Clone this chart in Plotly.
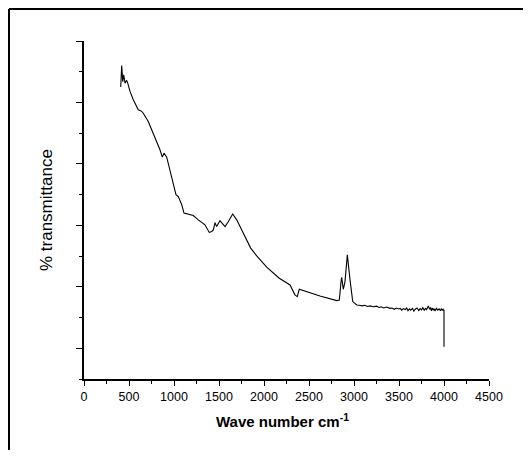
import plotly.graph_objects as go

# Wave number (cm^-1) and % transmittance (arbitrary units)
wavenumber = [408, 419, 430, 441, 456, 474, 486, 511, 548, 603, 641, 659, 714, 752, 808,
              844, 870, 889, 919, 956, 992, 1022, 1048, 1086, 1111, 1141, 1214, 1270, 1344,
              1392, 1419, 1437, 1456, 1474, 1511, 1541, 1567, 1603, 1652, 1697, 1752, 1808,
              1852, 1919, 2030, 2170, 2289, 2344, 2370, 2392, 2474, 2622, 2808, 2837, 2856,
              2863, 2881, 2900, 2926, 2937, 2956, 2986, 3030, 3060, 3090, 3120, 3150, 3180,
              3214, 3250, 3280, 3300, 3330, 3360, 3400, 3420, 3450, 3470, 3500, 3515, 3530,
              3550, 3570, 3585, 3600, 3615, 3630, 3650, 3665, 3680, 3700, 3720, 3735, 3750,
              3765, 3780, 3795, 3807, 3826, 3840, 3850, 3860, 3870, 3880, 3890, 3900, 3915,
              3930, 3945, 3960, 3970, 3980, 3990, 3995, 4000, 4000]
transmittance = [9.50, 10.20, 9.68, 9.90, 9.63, 9.72, 9.63, 9.36, 9.09, 8.76, 8.71, 8.65, 8.38,
                 8.11, 7.73, 7.46, 7.22, 7.35, 7.22, 6.81, 6.38, 6.00, 5.94, 5.67, 5.40, 5.37,
                 5.32, 5.18, 5.02, 4.77, 4.80, 4.85, 5.09, 4.96, 5.15, 5.05, 4.96, 5.12, 5.37,
                 5.18, 4.85, 4.50, 4.26, 4.01, 3.64, 3.28, 3.06, 2.74, 2.68, 2.92, 2.84, 2.70,
                 2.55, 2.57, 3.17, 3.31, 2.92, 3.17, 4.04, 3.71, 3.22, 2.52, 2.41, 2.40, 2.38,
                 2.40, 2.36, 2.38, 2.35, 2.37, 2.33, 2.35, 2.31, 2.34, 2.30, 2.31, 2.27, 2.31,
                 2.28, 2.30, 2.24, 2.29, 2.26, 2.31, 2.22, 2.28, 2.24, 2.30, 2.21, 2.27, 2.31,
                 2.23, 2.29, 2.25, 2.32, 2.24, 2.30, 2.26, 2.38, 2.27, 2.33, 2.22, 2.31, 2.25,
                 2.29, 2.21, 2.30, 2.24, 2.28, 2.22, 2.29, 2.24, 2.27, 2.23, 2.25, 1.05]

x_ticks = [0, 500, 1000, 1500, 2000, 2500, 3000, 3500, 4000, 4500]
y_major = [1, 3, 5, 7, 9, 11]

FONT = "Liberation Sans, Arial, sans-serif"

fig = go.Figure()
fig.add_trace(go.Scatter(x=wavenumber, y=transmittance, mode="lines",
                         line=dict(color="black", width=1.1), showlegend=False))

# page body has an 8px margin, so the figure is sized/offset to compensate
fig.update_layout(
    width=515, height=442,
    margin=dict(l=76, r=34, t=33, b=71),
    paper_bgcolor="white", plot_bgcolor="white",
    font=dict(family=FONT, color="black"),
    xaxis=dict(range=[0, 4500], tickvals=x_ticks, ticktext=[str(v) for v in x_ticks],
               showgrid=False, zeroline=False, showline=True, linecolor="black", linewidth=1.5,
               ticks="outside", ticklen=5, tickwidth=1, tickcolor="black", automargin=False,
               tickfont=dict(size=12.5, family=FONT),
               minor=dict(dtick=250, tick0=0, ticks="outside", ticklen=3, tickcolor="black")),
    yaxis=dict(range=[0, 11], tickvals=y_major, showticklabels=False, automargin=False,
               showgrid=False, zeroline=False, showline=True, linecolor="black", linewidth=1.5,
               ticks="outside", ticklen=6, tickwidth=1, tickcolor="black",
               minor=dict(dtick=1, tick0=0, ticks="outside", ticklen=3, tickcolor="black")),
    annotations=[
        dict(text="<b>Wave number cm<sup>-1</sup></b>", xref="paper", yref="paper",
             x=0.491, y=-0.124, xanchor="center", yanchor="middle", showarrow=False,
             font=dict(size=15, family=FONT, color="black")),
        dict(text="% transmittance", xref="paper", yref="paper", textangle=-90,
             x=-0.0938, y=0.5, xanchor="center", yanchor="middle", showarrow=False,
             font=dict(size=17, family=FONT, color="black")),
    ],
    shapes=[
        # outer frame: only the top and left edges fall inside the picture
        dict(type="line", xref="paper", yref="paper",
             x0=-0.1852, x1=1.2, y0=1.0947, y1=1.0947,
             line=dict(color="black", width=2), layer="below"),
        dict(type="line", xref="paper", yref="paper",
             x0=-0.1852, x1=-0.1852, y0=-0.3, y1=1.0947,
             line=dict(color="black", width=2), layer="below"),
    ],
)

fig.write_html("out.html")
